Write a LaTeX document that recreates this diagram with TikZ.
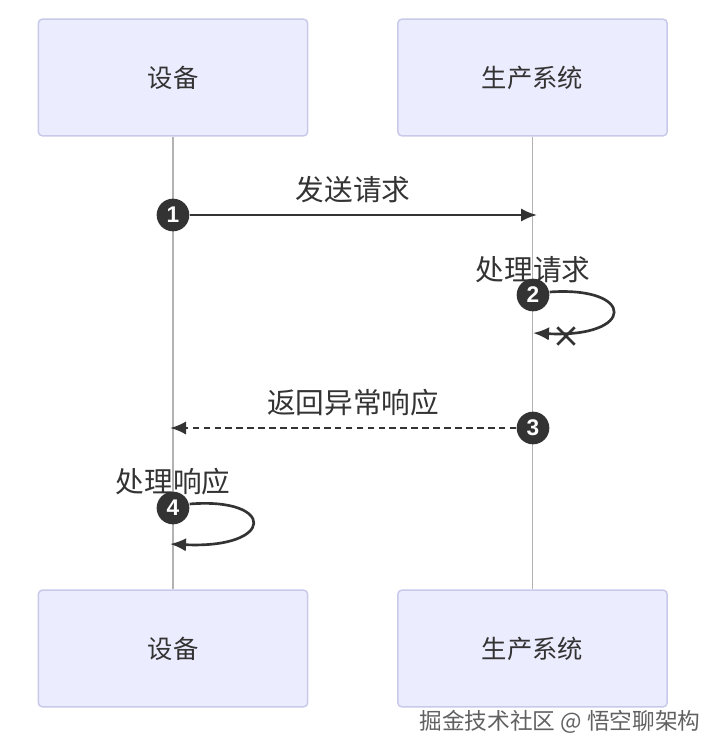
\documentclass[tikz,border=0pt]{standalone}
\usepackage{fontspec}
\setmainfont{Noto Sans CJK SC}
\newfontfamily\numfont{Liberation Sans}
\usetikzlibrary{arrows.meta,shapes.misc}
\definecolor{boxfill}{HTML}{ECECFF}
\definecolor{boxline}{HTML}{C9C9EA}
\definecolor{ink}{HTML}{333333}
\tikzset{
  actor/.style={draw=boxline,fill=boxfill,line width=1.1pt,rounded corners=3pt,
    minimum width=202pt,minimum height=87.5pt,inner sep=0pt,text=ink,font=\fontsize{19}{20}\selectfont},
  lifeline/.style={draw=black!30,line width=0.8pt},
  badge/.style={circle,fill=ink,minimum size=24.5pt,inner sep=0pt,text=white,font=\numfont\bfseries\fontsize{17}{17}\selectfont},
  msg/.style={text=ink,inner sep=0pt,font=\fontsize{21.5}{24}\selectfont},
  arrowline/.style={draw=ink,line width=2pt,-{Latex[length=12pt,width=10pt]}},
}
\begin{document}
\begin{tikzpicture}[x=0.75pt,y=-0.75pt]
    \useasboundingbox (0,0) rectangle (720,755);

    % the boxes on top and at the bottom
    \foreach \name/\x/\xtext in {dev/173/设备,sys/532.5/生产系统} {
      \node[actor] (\name top) at (\x,77.5) {\raisebox{-1pt}{\xtext}};
      \node[actor] (\name bot) at (\x,648.5) {\raisebox{-1.2pt}{\xtext}};
    }

    % lifelines
    \draw[lifeline] (devtop.south) -- (devbot.north);
    \draw[lifeline] (systop.south) -- (sysbot.north);

    % free ends of the messages
    \coordinate (end1) at (537,215);
    \coordinate (end2) at (533,333);
    \coordinate (end3) at (170,428);
    \coordinate (end4) at (170,544);

    % the numbered dots
    \foreach \n/\x/\y in {1/173/215,2/533/295,3/533/428,4/173/508}
      \node[badge] (step\n) at (\x,\y) {\n};

    % messages
    \draw[arrowline] (step1) -- (end1);
    \draw[arrowline] (step2.east) ++(0,-3) .. controls (636,286) and (636,338) .. (end2);
    \node[draw=ink,line width=2pt,cross out,minimum size=11pt,inner sep=0pt] (stop2) at (566,336) {};
    \draw[arrowline,dashed,dash pattern=on 5pt off 3.2pt] (step3) -- (end3);
    \draw[arrowline] (step4.east) ++(0,-4) .. controls (276,497) and (276,549) .. (end4);

    % labels
    \node[msg] (text1) at (353,189.5) {发送请求};
    \node[msg] (text2) at (533,269.5) {处理请求};
    \node[msg] (text3) at (353,402.5) {返回异常响应};
    \node[msg] (text4) at (173,481.5) {处理响应};

    \node[text=black!62,inner sep=0pt,font=\fontsize{17}{20}\selectfont] (mark) at (560,722) {掘金技术社区 @ 悟空聊架构};
  \end{tikzpicture}
\end{document}
